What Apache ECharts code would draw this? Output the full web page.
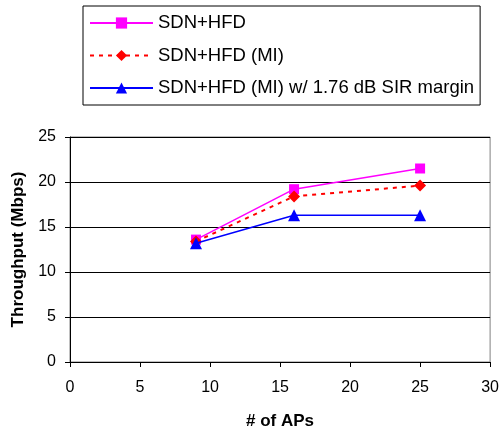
<!DOCTYPE html>
<html>
<head>
<meta charset="utf-8">
<script src="https://cdn.jsdelivr.net/npm/echarts@6/dist/echarts.min.js"></script>
<style>html,body{margin:0;padding:0;background:#fff}#c{width:502px;height:435px}</style>
</head>
<body>
<div id="c"></div>
<script>
var apCounts = [9, 16, 25];
var sdnHfd = [13.6, 19.2, 21.5];
var sdnHfdMI = [13.4, 18.4, 19.6];
var sdnHfdMIMargin = [13.2, 16.3, 16.3];
var seriesNames = ['SDN+HFD', 'SDN+HFD (MI)', 'SDN+HFD (MI) w/ 1.76 dB SIR margin'];
var xTicks = [0, 5, 10, 15, 20, 25, 30];
var yTicks = [0, 5, 10, 15, 20, 25];

function pairs(xs, ys) { return xs.map(function (x, i) { return [x, ys[i]]; }); }

var font = 'Liberation Sans, Arial, sans-serif';
var chart = echarts.init(document.getElementById('c'), null, {renderer: 'canvas'});
chart.setOption({
  animation: false,
  backgroundColor: '#fff',
  textStyle: {fontFamily: font},
  grid: {left: 70, right: 10, top: 137, bottom: 69, show: true, borderColor: '#808080', borderWidth: 1, backgroundColor: '#fff'},
  legend: {
    orient: 'vertical', left: 83, top: 6,
    padding: [7.5, 6, 7.5, 6],
    itemGap: 13.5, itemWidth: 63, itemHeight: 14,
    borderColor: '#000', borderWidth: 1, backgroundColor: '#fff',
    textStyle: {fontFamily: font, fontSize: 18.5, color: '#000'},
    data: seriesNames
  },
  xAxis: {
    type: 'value', min: xTicks[0], max: xTicks[xTicks.length - 1], interval: 5,
    name: '# of APs', nameLocation: 'middle', nameGap: 51,
    nameTextStyle: {fontFamily: font, fontSize: 17, fontWeight: 'bold', color: '#000'},
    axisLine: {show: true, lineStyle: {color: '#000', width: 1}},
    axisTick: {show: true, inside: false, length: 5, lineStyle: {color: '#000'}},
    axisLabel: {fontFamily: font, fontSize: 16, color: '#000', margin: 18},
    splitLine: {show: false}
  },
  yAxis: {
    type: 'value', min: yTicks[0], max: yTicks[yTicks.length - 1], interval: 5,
    name: 'Throughput (Mbps)', nameLocation: 'middle', nameGap: 43,
    nameTextStyle: {fontFamily: font, fontSize: 17, fontWeight: 'bold', color: '#000'},
    axisLine: {show: true, lineStyle: {color: '#000', width: 1}},
    axisTick: {show: true, inside: false, length: 5, lineStyle: {color: '#000'}},
    axisLabel: {fontFamily: font, fontSize: 16, color: '#000', margin: 14},
    splitLine: {show: true, lineStyle: {color: '#000', width: 1}}
  },
  series: [
    {
      name: seriesNames[0], type: 'line', data: pairs(apCounts, sdnHfd),
      symbol: 'rect', symbolSize: 10,
      itemStyle: {color: '#ff00ff'}, lineStyle: {color: '#ff00ff', width: 1.5}, z: 3
    },
    {
      name: seriesNames[1], type: 'line', data: pairs(apCounts, sdnHfdMI),
      symbol: 'diamond', symbolSize: 12,
      itemStyle: {color: '#ff0000'}, lineStyle: {color: '#ff0000', width: 2, type: [4, 5]}, z: 4
    },
    {
      name: seriesNames[2], type: 'line', data: pairs(apCounts, sdnHfdMIMargin),
      symbol: 'triangle', symbolSize: 12,
      itemStyle: {color: '#0000ff'}, lineStyle: {color: '#0000ff', width: 1.5}, z: 5
    }
  ]
});
</script>
</body>
</html>
